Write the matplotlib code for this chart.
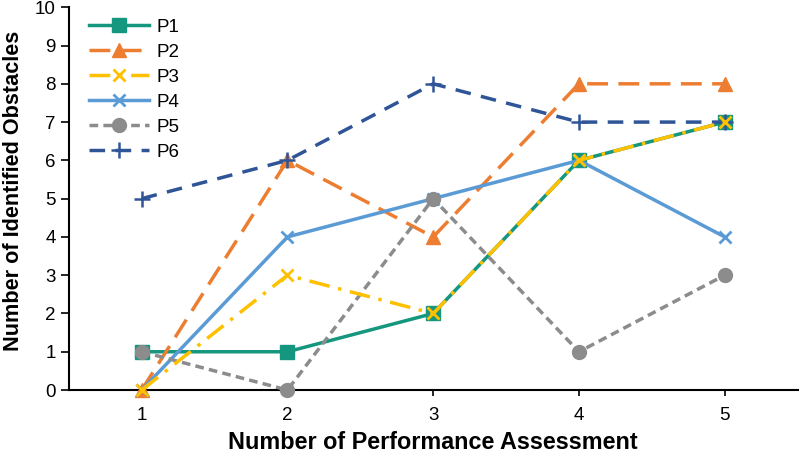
import matplotlib
matplotlib.use("Agg")
import matplotlib.pyplot as plt

plt.rcParams['font.family'] = ['Liberation Sans', 'DejaVu Sans']

assessments = [1, 2, 3, 4, 5]
p1 = [1, 1, 2, 6, 7]
p2 = [0, 6, 4, 8, 8]
p3 = [0, 3, 2, 6, 7]
p4 = [0, 4, 5, 6, 4]
p5 = [1, 0, 5, 1, 3]
p6 = [5, 6, 8, 7, 7]
labels = ["P1", "P2", "P3", "P4", "P5", "P6"]

fig = plt.figure(figsize=(8.0, 4.53), dpi=100)
ax = fig.add_axes([0.086, 0.139, 0.911, 0.845])

styles = [
    dict(color="#14967F", marker="s", ls="-", ms=10, mew=1),
    dict(color="#ED7D31", marker="^", ls=(0, (6, 3)), ms=10),
    dict(color="#FFC000", marker="x", ls=(0, (6, 2.5, 1, 2.5)), ms=9, mew=2),
    dict(color="#5B9BD5", marker="x", ls="-", ms=9, mew=2),
    dict(color="#8C8C8C", marker="o", ls=(0, (2.5, 1.5)), ms=10),
    dict(color="#2F5597", marker="+", ls=(0, (4.5, 3)), ms=11, mew=1.8),
]
series = [p1, p2, p3, p4, p5, p6]
zorders = [3, 3, 4, 3, 3, 3]
for s, lab, st, z in zip(series, labels, styles, zorders):
    ax.plot(assessments, s, label=lab, lw=2.5, clip_on=False, zorder=z, **st)

ax.set_xlim(0.5, 5.5)
ax.set_ylim(0, 10)
ax.set_yticks(range(0, 11))
ax.set_xticks(assessments)
for sp in ["top", "right"]:
    ax.spines[sp].set_visible(False)
for sp in ["left", "bottom"]:
    ax.spines[sp].set_linewidth(1.5)
ax.tick_params(axis="y", direction="out", length=6, width=1.2, labelsize=13.5)
ax.tick_params(axis="x", direction="out", length=4, width=1.2, labelsize=13.5, pad=8)

ax.set_xlabel("Number of Performance Assessment", fontsize=16.8, fontweight="bold", labelpad=5)
ax.set_ylabel("Number of Identified Obstacles", fontsize=15.6, fontweight="bold")
ax.yaxis.set_label_coords(-0.062, 0.52)

leg = ax.legend(loc="upper left", bbox_to_anchor=(0.005, 1.015), frameon=False,
                fontsize=13.5, handlelength=3.2, labelspacing=0.42, handletextpad=0.4)

fig.savefig("out.png", dpi=100)
